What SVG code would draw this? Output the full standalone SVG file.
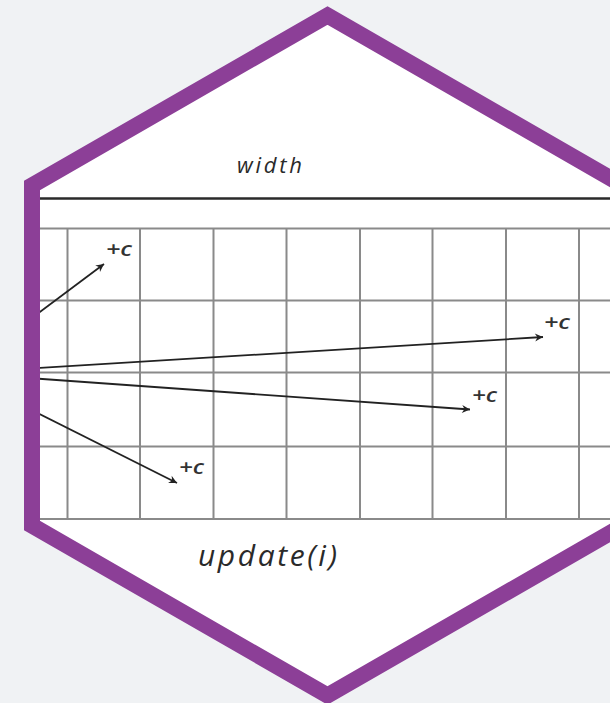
<svg xmlns="http://www.w3.org/2000/svg" width="610" height="703" viewBox="0 0 610 703">
<style>
.grid line{stroke:#8a8a8a;stroke-width:2}
.conn line{stroke:#222;stroke-width:1.8;fill:none}
.lbl{font-family:"Open Sans","DejaVu Sans",sans-serif;font-style:italic;fill:#2a2a2a}
.pc{font-family:"Open Sans","DejaVu Sans",sans-serif;font-size:19px;font-weight:600;font-style:italic;fill:#333}
</style>
<defs>
<clipPath id="hexclip"><polygon points="327.5,15.5 623,185.5 623,525.5 327.5,695.5 32,525.5 32,185.5"/></clipPath>
<marker id="ah" markerUnits="userSpaceOnUse" markerWidth="12" markerHeight="10" viewBox="-9 -5 10 10" refX="0" refY="0" orient="auto">
<path d="M0,0 L-8,-4 L-5.5,0 L-8,4 Z" fill="#222"/>
</marker>
</defs>
<rect width="610" height="703" fill="#f0f2f4"/>
<g id="hexagon-fill"><polygon points="327.5,15.5 623,185.5 623,525.5 327.5,695.5 32,525.5 32,185.5" fill="#ffffff"/></g>
<g clip-path="url(#hexclip)">
<g id="width-bar"><line x1="30" y1="198.5" x2="620" y2="198.5" stroke="#2a2a2a" stroke-width="2.4"/></g>
<g id="grid" class="grid">
<line x1="30" y1="228.5" x2="620" y2="228.5"/>
<line x1="30" y1="300.5" x2="620" y2="300.5"/>
<line x1="30" y1="372.5" x2="620" y2="372.5"/>
<line x1="30" y1="446.5" x2="620" y2="446.5"/>
<line x1="30" y1="519" x2="620" y2="519"/>
<line x1="67.5" y1="228.5" x2="67.5" y2="519"/>
<line x1="140" y1="228.5" x2="140" y2="519"/>
<line x1="213.5" y1="228.5" x2="213.5" y2="519"/>
<line x1="286.5" y1="228.5" x2="286.5" y2="519"/>
<line x1="360" y1="228.5" x2="360" y2="519"/>
<line x1="432.5" y1="228.5" x2="432.5" y2="519"/>
<line x1="506" y1="228.5" x2="506" y2="519"/>
<line x1="579" y1="228.5" x2="579" y2="519"/>
</g>
<g id="connectors" class="conn">
<line x1="-42" y1="373" x2="104" y2="264" marker-end="url(#ah)"/>
<line x1="-42" y1="373" x2="543" y2="337" marker-end="url(#ah)"/>
<line x1="-42" y1="373" x2="470" y2="409.5" marker-end="url(#ah)"/>
<line x1="-42" y1="373" x2="177" y2="483" marker-end="url(#ah)"/>
</g>
</g>
<g id="hexagon-border"><polygon points="327.5,15.5 623,185.5 623,525.5 327.5,695.5 32,525.5 32,185.5" fill="none" stroke="#8c3f97" stroke-width="16"/></g>
<g id="labels">
<text class="lbl" x="237" y="173" font-size="22" textLength="65" lengthAdjust="spacing">width</text>
<text class="lbl" x="198" y="566" font-size="30" textLength="139" lengthAdjust="spacing">update(i)</text>
<text class="pc" x="106" y="256" textLength="26" lengthAdjust="spacingAndGlyphs">+c</text>
<text class="pc" x="544" y="329" textLength="26" lengthAdjust="spacingAndGlyphs">+c</text>
<text class="pc" x="472" y="402" textLength="25" lengthAdjust="spacingAndGlyphs">+c</text>
<text class="pc" x="179" y="474" textLength="25" lengthAdjust="spacingAndGlyphs">+c</text>
</g>
</svg>
